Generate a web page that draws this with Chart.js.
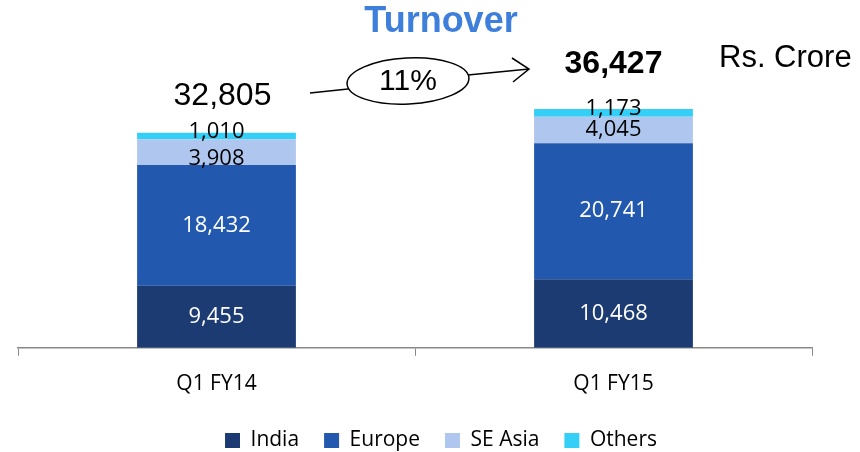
<!DOCTYPE html>
<html><head><meta charset="utf-8">
<script src="https://cdn.jsdelivr.net/npm/chart.js@4.4.0/dist/chart.umd.min.js"></script>
<style>html,body{margin:0;padding:0;background:#fff}#wrap{width:860px;height:452px}</style>
</head><body><div id="wrap"><canvas id="c" width="860" height="452"></canvas></div>
<script>
const categories = ["Q1 FY14", "Q1 FY15"];
const india = [9455, 10468];
const europe = [18432, 20741];
const seAsia = [3908, 4045];
const others = [1010, 1173];
const totals = [32805, 36427];
const growthLabel = "11%";
const titleText = "Turnover";
const unitText = "Rs. Crore";

const fmt = v => v.toLocaleString('en-US');
const LBL = "'Open Sans', sans-serif";
const ARIAL = "'Liberation Sans', Arial, sans-serif";

const legendShift = {
  id: 'legendShift',
  afterLayout(chart) {
    const lg = chart.legend;
    if (lg) { lg.left += 26; lg.right += 26; lg.top -= 8; lg.bottom -= 8; }
  }
};

const overlay = {
  id: 'overlay',
  afterDatasetsDraw(chart) {
    const ctx = chart.ctx;
    chart.data.datasets.forEach((ds, di) => {
      const meta = chart.getDatasetMeta(di);
      meta.data.forEach((bar, i) => {
        const cy = (bar.y + bar.base) / 2;
        ctx.save();
        ctx.font = "22px " + LBL;
        ctx.textAlign = 'center';
        ctx.textBaseline = 'middle';
        ctx.fillStyle = di < 2 ? '#ffffff' : '#000000';
        let y = cy;
        if (di === 2 && i === 0) y = cy + 7;
        if (di === 3) y = cy - 4;
        ctx.fillText(fmt(ds.data[i]), bar.x, y);
        ctx.restore();
      });
    });
    const x = chart.scales.x, yS = chart.scales.y;
    const top0 = yS.getPixelForValue(totals[0]);
    const top1 = yS.getPixelForValue(totals[1]);
    const x0 = x.getPixelForValue(0), x1 = x.getPixelForValue(1);
    ctx.save();
    ctx.textAlign = 'center';
    ctx.textBaseline = 'middle';
    ctx.fillStyle = '#000';
    ctx.font = "32px " + ARIAL;
    ctx.fillText(fmt(totals[0]), x0 + 6, top0 - 37);
    ctx.font = "bold 32px " + ARIAL;
    ctx.fillText(fmt(totals[1]), x1, top1 - 45);
    ctx.fillStyle = '#3f7fdc';
    ctx.font = "bold 36px " + ARIAL;
    ctx.fillText(titleText, 441, 22);
    ctx.fillStyle = '#000';
    ctx.font = "31px " + ARIAL;
    ctx.textAlign = 'left';
    ctx.fillText(unitText, 719, 58);
    const ex = 408, ey = 81;
    ctx.strokeStyle = '#000';
    ctx.lineWidth = 1.5;
    ctx.beginPath();
    ctx.moveTo(310, 93); ctx.lineTo(348, 89);
    ctx.stroke();
    ctx.beginPath();
    ctx.ellipse(ex, ey, 61, 23, -0.05, 0, Math.PI * 2);
    ctx.stroke();
    ctx.beginPath();
    ctx.moveTo(468, 75); ctx.lineTo(529, 69);
    ctx.stroke();
    ctx.beginPath();
    ctx.moveTo(512, 58); ctx.lineTo(529, 69); ctx.lineTo(513, 82);
    ctx.stroke();
    ctx.textAlign = 'center';
    ctx.font = "30px " + ARIAL;
    ctx.fillText(growthLabel, ex, ey + 1);
    ctx.restore();
  }
};

new Chart(document.getElementById('c'), {
  type: 'bar',
  data: {
    labels: categories,
    datasets: [
      { label: 'India', data: india, backgroundColor: '#1b3b72' },
      { label: 'Europe', data: europe, backgroundColor: '#2259ae' },
      { label: 'SE Asia', data: seAsia, backgroundColor: '#afc7ee' },
      { label: 'Others', data: others, backgroundColor: '#33cff7' }
    ]
  },
  options: {
    responsive: false,
    animation: false,
    layout: { padding: { left: 18, right: 48, top: 20, bottom: -17 } },
    datasets: { bar: { categoryPercentage: 1, barPercentage: 0.4, borderWidth: 0 } },
    plugins: {
      legend: {
        position: 'bottom',
        labels: { font: { family: LBL, size: 21 }, color: '#000', boxWidth: 15, boxHeight: 15, padding: 25 }
      },
      tooltip: { enabled: false }
    },
    scales: {
      x: {
        stacked: true,
        grid: { display: true, drawOnChartArea: false, drawTicks: true, tickLength: 8, color: '#888', offset: true },
        border: { display: true, color: '#888', width: 1.5 },
        ticks: { font: { family: LBL, size: 21 }, color: '#000', padding: 16 }
      },
      y: { stacked: true, display: false, min: 0, max: 50000 }
    }
  },
  plugins: [overlay, legendShift]
});
</script></body></html>
